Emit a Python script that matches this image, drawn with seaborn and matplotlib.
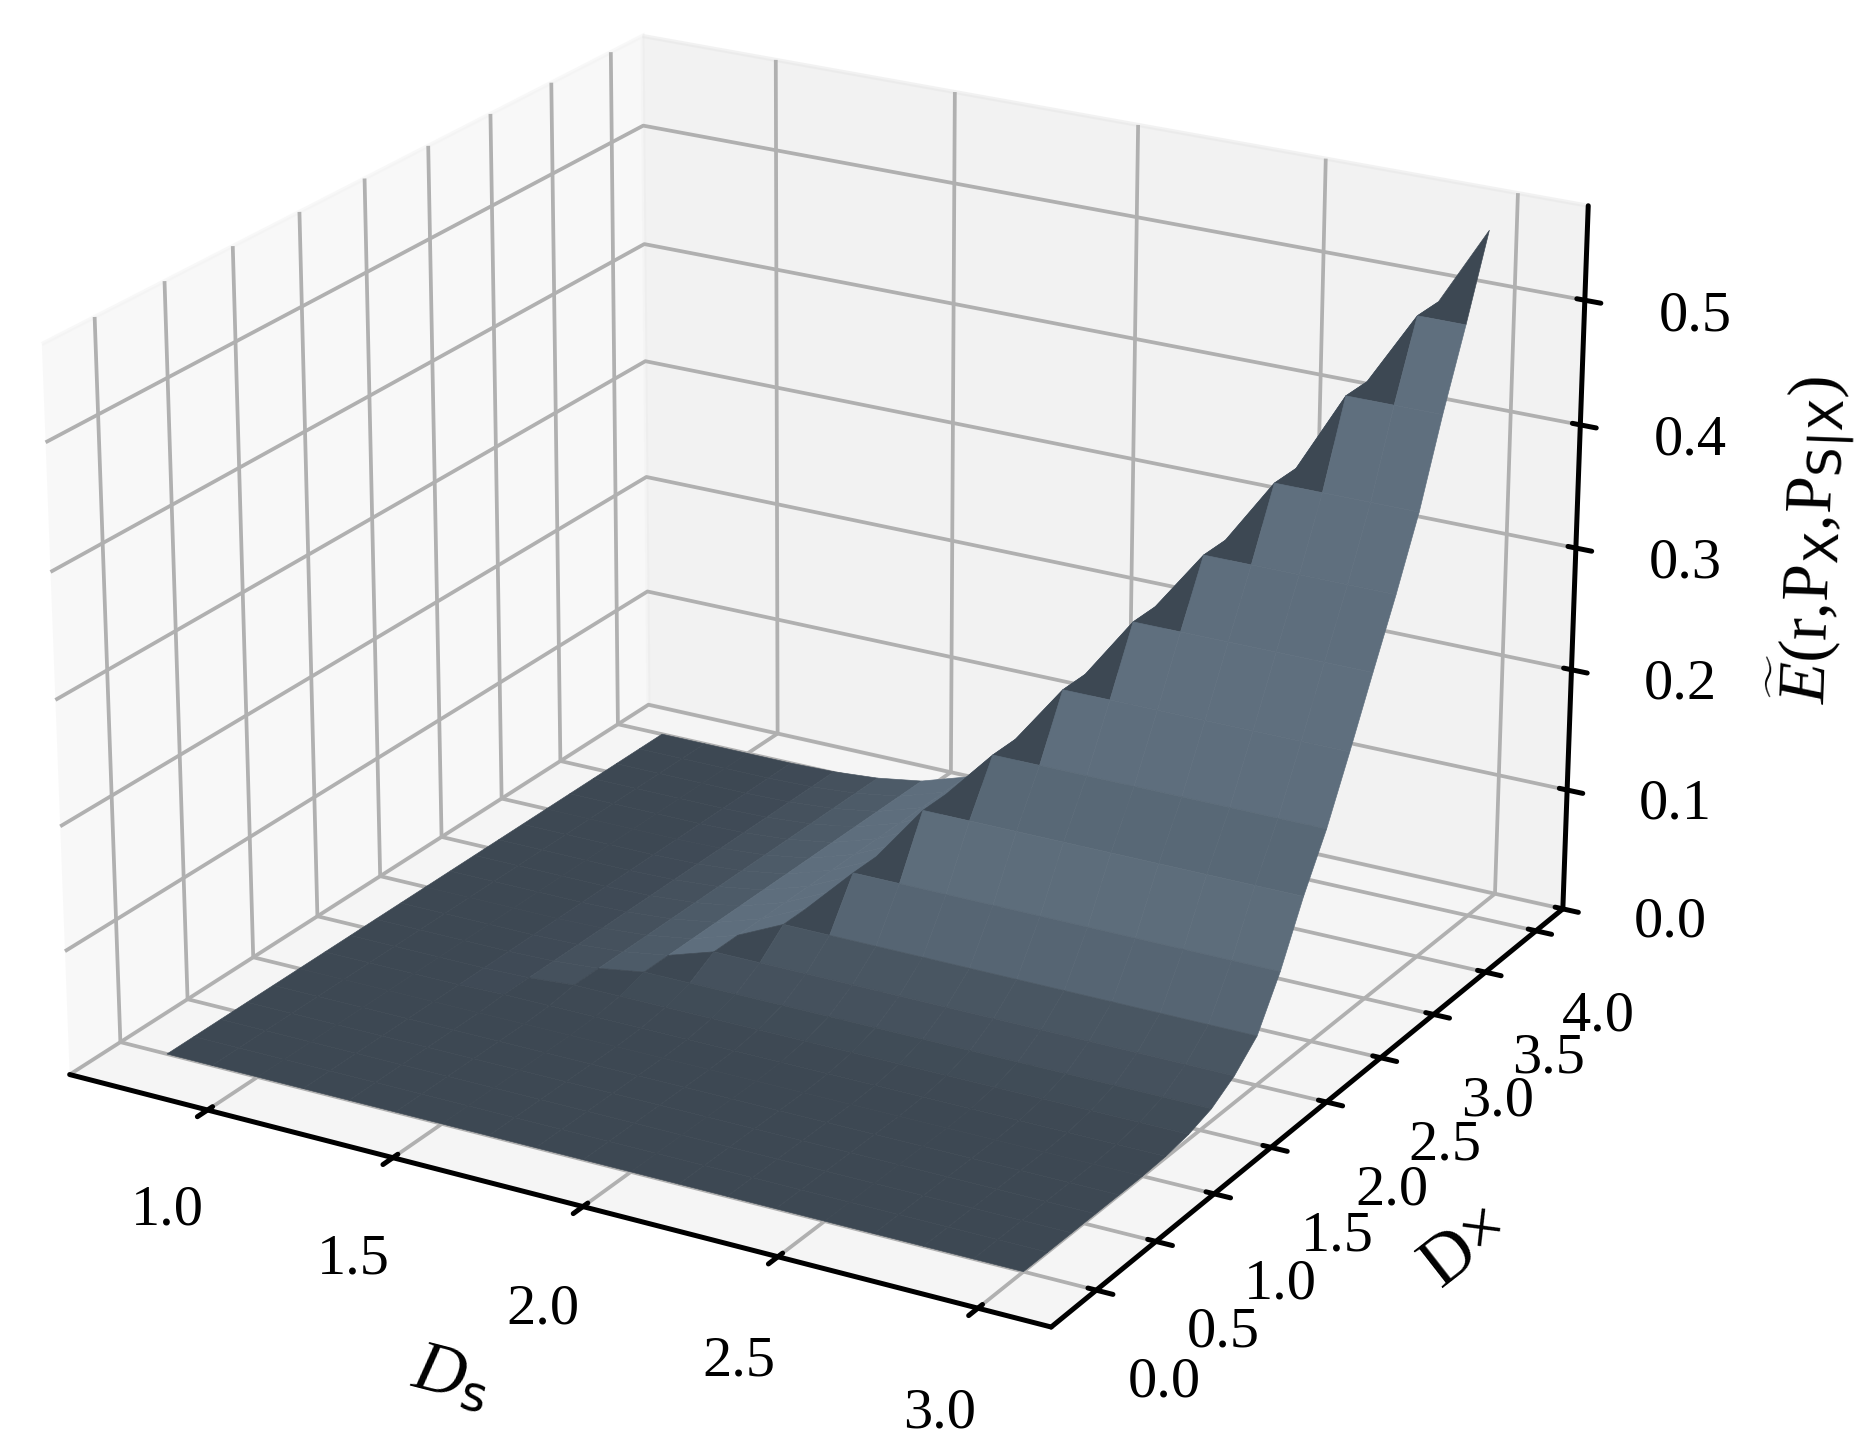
import numpy as np
import seaborn as sns
import matplotlib
matplotlib.use('Agg')
import matplotlib.pyplot as plt
from matplotlib import rcParams

# values
ds_values = [0.75, 0.875, 1.0, 1.125, 1.25, 1.375, 1.5, 1.625, 1.75, 1.875, 2.0, 2.125,
             2.25, 2.375, 2.5, 2.625, 2.75, 2.875, 3.0]
dx_values = [0.0, 0.2, 0.4, 0.6, 0.8, 1.0, 1.2, 1.4, 1.6, 1.8, 2.0, 2.2, 2.4, 2.6, 2.8,
             3.0, 3.2, 3.4, 3.6, 3.8, 4.0]
# height of the surface along the Dx side and along the Ds side
e_along_dx = [0.0, 0.0, 0.0, 0.0, 0.0, 0.0, 0.001, 0.004, 0.01, 0.022, 0.04, 0.078,
              0.125, 0.166, 0.215, 0.266, 0.316, 0.37, 0.436, 0.496, 0.56]
e_along_ds = [0.0, 0.0, 0.0, 0.0, 0.001, 0.004, 0.01, 0.022, 0.04, 0.078, 0.125, 0.166, 0.215,
              0.266, 0.316, 0.37, 0.436, 0.496, 0.56]

ds_ticks = [1.0, 1.5, 2.0, 2.5, 3.0]
dx_ticks = [0.0, 0.5, 1.0, 1.5, 2.0, 2.5, 3.0, 3.5, 4.0]
e_ticks = [0.0, 0.1, 0.2, 0.3, 0.4, 0.5]

sns.set_style('white')
rcParams['font.family'] = ['Liberation Serif']
rcParams['mathtext.fontset'] = 'custom'
rcParams['mathtext.rm'] = 'Liberation Serif'
rcParams['mathtext.it'] = 'Liberation Serif:italic'
rcParams['mathtext.sf'] = 'DejaVu Sans'
rcParams['text.color'] = 'black'
rcParams['axes.labelcolor'] = 'black'
rcParams['xtick.color'] = 'black'
rcParams['ytick.color'] = 'black'

X, Y = np.meshgrid(ds_values, dx_values)
Z = np.minimum.outer(np.array(e_along_dx), np.array(e_along_ds))

# faces get darker or lighter with the slope, like the original shading
shades = sns.blend_palette(['#3d4853', '#5f6f7e'], 32)
dz_ds = np.abs(Z[:-1, 1:] - Z[:-1, :-1])
dz_dx = np.abs(Z[1:, :-1] - Z[:-1, :-1])
level = np.clip(np.maximum(dz_ds / 0.012, dz_dx / 0.05), 0, 1)
face_colors = np.ones((Z.shape[0], Z.shape[1], 4))
face_colors[:-1, :-1, :3] = np.array(shades)[(level * 31).astype(int)]

fig = plt.figure(figsize=(6.25, 4.82), dpi=300)
ax = fig.add_axes([-0.083, -0.045, 1.03, 1.176], projection='3d')
ax.view_init(elev=22, azim=-60)
ax.set_proj_type('persp', focal_length=0.9)
ax.set_box_aspect((4, 4, 2.78))
ax.plot_surface(X, Y, Z, facecolors=face_colors, rstride=1, cstride=1, linewidth=0.15, shade=False)

ax.set_xlim(0.62, 3.18, view_margin=0)
ax.set_ylim(-0.37, 4.27, view_margin=0)
ax.set_zlim(0.0, 0.575, view_margin=0)

ax.set_xticks(ds_ticks)
ax.set_yticks(dx_ticks)
ax.set_zticks(e_ticks)
ax.tick_params(labelsize=14, pad=6)
ax.tick_params(axis='z', pad=8)

ax.yaxis.set_rotate_label(False)
ax.set_xlabel(r'$D_{\mathsf{s}}$', fontsize=17, labelpad=12)
ax.set_ylabel('D×', fontsize=17, labelpad=10, rotation=38)
ax.set_zlabel(r'$\widetilde{E}(\mathrm{r{,}P}_{\mathsf{X}}{,}\mathrm{P}_{\mathsf{S|X}})$', fontsize=16, labelpad=14)

for axis in [ax.xaxis, ax.yaxis, ax.zaxis]:
    axis.line.set_linewidth(1.2)
    axis.line.set_color('black')
    axis._axinfo['grid']['color'] = '#b0b0b0'
    axis._axinfo['grid']['linewidth'] = 0.9
    axis._axinfo['tick']['linewidth'] = {True: 1.2, False: 0.5}
    axis._axinfo['tick']['color'] = 'black'

plt.savefig('out.png', dpi=300)
